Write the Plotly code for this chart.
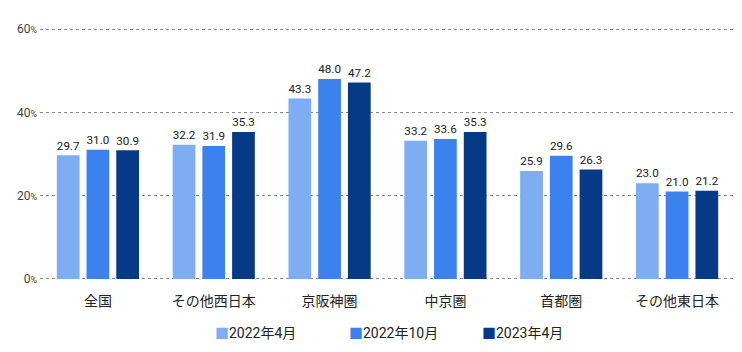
import plotly.graph_objects as go

categories = ["全国", "その他西日本", "京阪神圏", "中京圏", "首都圏", "その他東日本"]
series_names = ["2022年4月", "2022年10月", "2023年4月"]
apr2022 = [29.7, 32.2, 43.3, 33.2, 25.9, 23.0]
oct2022 = [31.0, 31.9, 48.0, 33.6, 29.6, 21.0]
apr2023 = [30.9, 35.3, 47.2, 35.3, 26.3, 21.2]
colors = ["#7eadf4", "#3c82ef", "#063a86"]
tick_vals = [0, 20, 40, 60]

fig = go.Figure()
for name, vals, c in zip(series_names, [apr2022, oct2022, apr2023], colors):
    fig.add_trace(go.Bar(
        x=categories, y=vals, name=name, marker_color=c, marker_line_width=0,
        text=[f"{v:.1f}" for v in vals], textposition="outside",
        textfont=dict(size=13, color="#222"), cliponaxis=False,
    ))

# legend drawn as text annotations (square glyph + label)
legend_x = [0.31, 0.508, 0.694]
for name, c, lx in zip(series_names, colors, legend_x):
    fig.add_annotation(
        xref="paper", yref="paper", x=lx, y=-0.205, xanchor="center", yanchor="middle",
        text=f"<span style='color:{c}'>■</span>{name}", showarrow=False,
        font=dict(size=14, color="#222"),
    )

fig.update_layout(
    width=742, height=352,
    margin=dict(l=40, r=7, t=27, b=71, autoexpand=False),
    paper_bgcolor="white", plot_bgcolor="white",
    barmode="group", bargap=0.23, bargroupgap=0.235,
    font=dict(family="Roboto, Noto Sans CJK JP, sans-serif", color="#222"),
    showlegend=False,
    xaxis=dict(showline=False, ticks="", tickfont=dict(size=14, color="#222"),
               ticklabelstandoff=10),
    yaxis=dict(range=[-0.5, 60.5], tickvals=tick_vals,
               ticktext=[f"{v}<span style='font-size:9px'>%</span>" for v in tick_vals],
               tickfont=dict(size=12, color="#444"), ticklabelstandoff=2,
               showgrid=True, gridcolor="#8a8a8a", griddash="3px,3px", gridwidth=1,
               zeroline=False, showline=False, ticks=""),
)
fig.write_html("out.html")
